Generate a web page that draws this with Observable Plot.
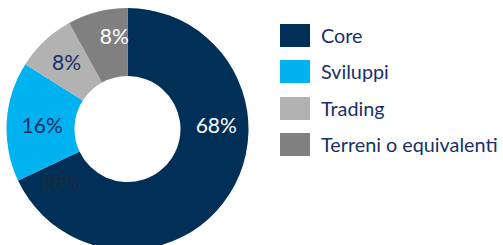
<!DOCTYPE html>
<html>
<head>
<meta charset="utf-8">
<script src="https://cdn.jsdelivr.net/npm/d3@7"></script>
<script src="https://cdn.jsdelivr.net/npm/@observablehq/plot@0.6"></script>
<style>
  html, body { margin: 0; padding: 0; background: #fff; }
  #wrap { position: relative; width: 503px; height: 245px; overflow: hidden; font-family: Lato, "Open Sans", sans-serif; }
  #legend { position: absolute; left: 280px; top: 24px; }
  .row { display: flex; align-items: center; height: 23px; margin-bottom: 13.3px; }
  .sw { width: 30px; height: 23px; flex: none; }
  .lab { margin-left: 11px; font-size: 19.8px; color: #17306a; white-space: nowrap; line-height: 23px; }
</style>
</head>
<body>
<div id="wrap"></div>
<script>
// Data
const categories = ["Core", "Sviluppi", "Trading", "Terreni o equivalenti"];
const shares = [68, 16, 8, 8];
const shareLabels = ["68%", "16%", "8%", "8%"];
// stray label visible in the reference (over the Core slice)
const strayLabels = ["28%"];

// Label placement (as in the reference: degrees clockwise from 12 o'clock, radius fraction)
const labelAngles = [88, 272, 317, 351.5];
const labelRadii = [0.73, 0.71, 0.745, 0.77];
const strayAngles = [231.5];
const strayRadii = [0.72];

// Styles
const colors = ["#003057", "#00b2ef", "#b2b2b2", "#808080"];
const labelColors = ["#ffffff", "#17306a", "#17306a", "#ffffff"];
const innerFrac = 53 / 121;

const data = categories.map((c, i) => ({category: c, value: shares[i], label: shareLabels[i], i}));
const pie = d3.pie().sort(null).value(d => d.value)(data);
const rad = a => a * Math.PI / 180;
const slices = pie.map(p => {
  const i = p.data.i;
  const a = rad(labelAngles[i]);
  return {...p.data, start: p.startAngle, end: p.endAngle,
    lx: Math.sin(a) * labelRadii[i], ly: Math.cos(a) * labelRadii[i]};
});
const strays = strayLabels.map((l, i) => {
  const a = rad(strayAngles[i]);
  return {label: l, lx: Math.sin(a) * strayRadii[i], ly: Math.cos(a) * strayRadii[i]};
});

function arcsMark(index, scales) {
  const cx = scales.x(0), cy = scales.y(0);
  const R = Math.abs(scales.x(1) - scales.x(0));
  const arc = d3.arc().innerRadius(R * innerFrac).outerRadius(R);
  const g = d3.create("svg:g").attr("transform", `translate(${cx},${cy})`);
  g.selectAll("path").data(slices).join("path")
    .attr("d", d => arc({startAngle: d.start, endAngle: d.end}))
    .attr("fill", d => colors[d.i]);
  return g.node();
}

const chart = Plot.plot({
  width: 503,
  height: 245,
  margin: 0,
  x: {domain: [-1, 1], range: [6.5, 248.5], axis: null},
  y: {domain: [-1, 1], range: [250, 8], axis: null},
  marks: [
    arcsMark,
    Plot.text(slices, {
      x: "lx", y: "ly", text: "label",
      fill: d => labelColors[d.i],
      fontSize: 21, fontFamily: "Lato, 'Open Sans', sans-serif"
    }),
    Plot.text(strays, {
      x: "lx", y: "ly", text: "label",
      fill: "#1d2b3d",
      fontSize: 21, fontFamily: "Lato, 'Open Sans', sans-serif"
    })
  ]
});

const wrap = document.getElementById("wrap");
wrap.appendChild(chart);

const legend = document.createElement("div");
legend.id = "legend";
categories.forEach((c, i) => {
  const row = document.createElement("div");
  row.className = "row";
  const sw = document.createElement("div");
  sw.className = "sw";
  sw.style.background = colors[i];
  const lab = document.createElement("div");
  lab.className = "lab";
  lab.textContent = c;
  row.appendChild(sw);
  row.appendChild(lab);
  legend.appendChild(row);
});
wrap.appendChild(legend);
</script>
</body>
</html>
